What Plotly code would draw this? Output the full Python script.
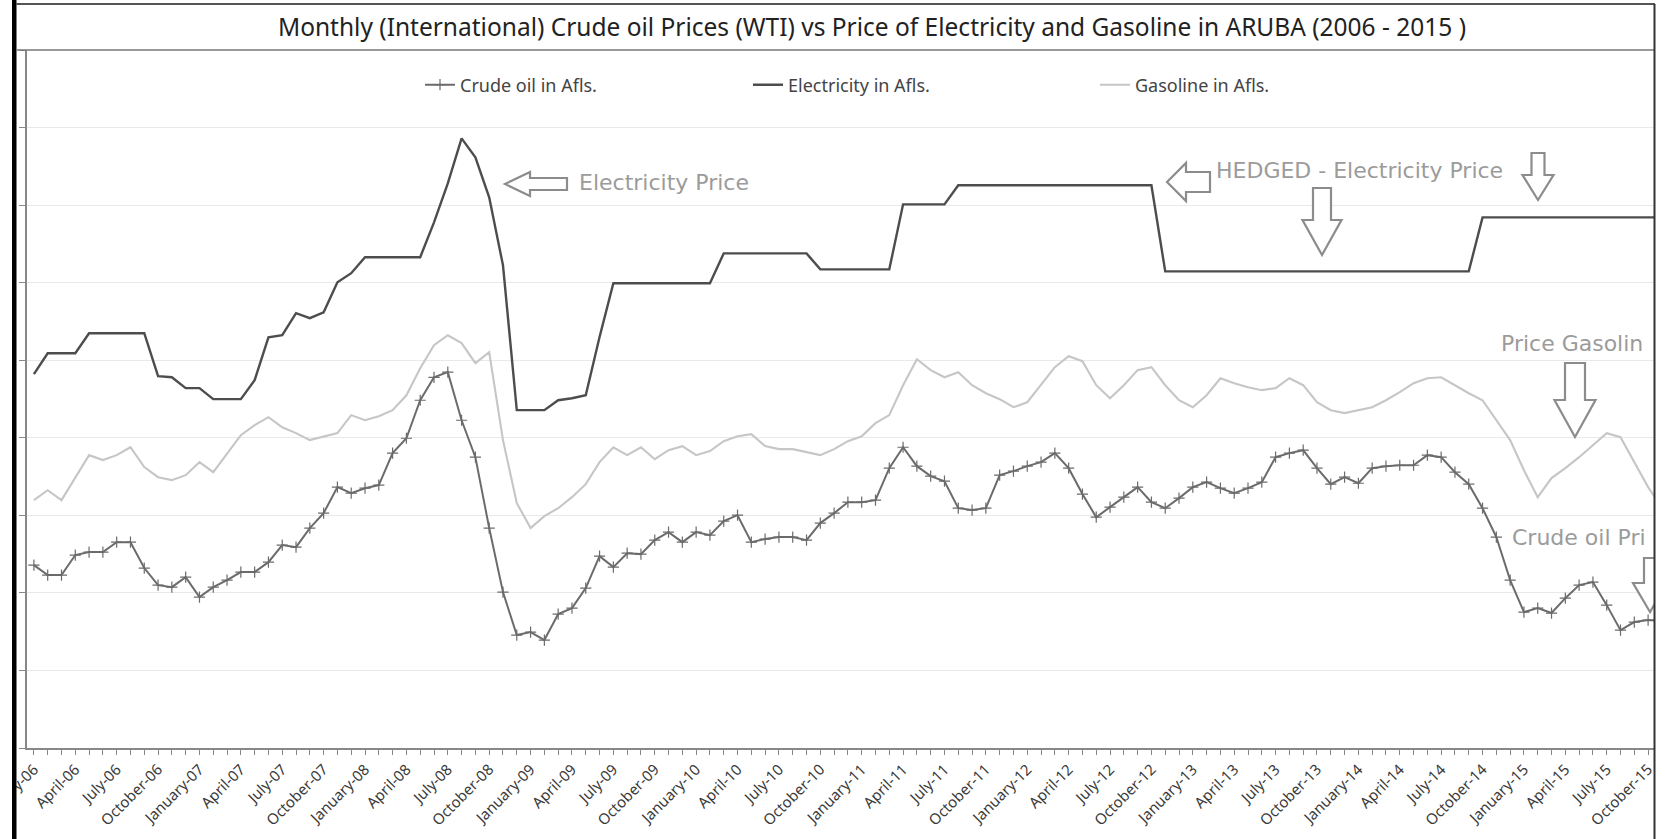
import plotly.graph_objects as go

# ---------------- data ----------------
month_names = ["January", "February", "March", "April", "May", "June", "July",
               "August", "September", "October", "November", "December"]
years = list(range(2006, 2016))
# Jan-06 .. Nov-15 (the last month runs past the visible right edge of the chart)
categories = [f"{m}-{str(y)[2:]}" for y in years for m in month_names][:119]
n_visible = 118  # Jan-06 .. Oct-15 shown on the axis

crude_oil = [
    117.9, 111.5, 111.5, 124.4, 126.3, 126.3, 132.7, 132.7, 116.0, 105.0, 103.7, 110.2,
    97.3, 103.7, 108.2, 113.4, 113.4, 119.8, 130.8, 129.5, 141.8, 151.4, 168.2, 164.3,
    167.5, 169.5, 190.1, 199.7, 224.2, 239.0, 242.3, 211.3, 187.5, 141.8, 100.5, 72.8,
    74.7, 69.6, 86.3, 90.2, 103.1, 123.7, 116.6, 125.6, 125.0, 134.0, 139.2, 132.7,
    139.2, 137.2, 146.3, 150.1, 132.7, 134.7, 136.0, 136.0, 134.0, 145.0, 151.4, 158.5,
    158.5, 159.8, 180.4, 193.9, 181.7, 175.3, 172.0, 154.6, 153.4, 154.6, 175.9, 178.5,
    181.7, 184.3, 190.1, 180.4, 163.7, 148.8, 155.3, 161.7, 168.2, 158.5, 154.6, 161.1,
    168.2, 171.4, 167.5, 164.3, 167.5, 171.4, 187.5, 190.1, 192.0, 180.4, 170.1, 174.6,
    170.7, 180.4, 181.7, 182.3, 182.3, 188.8, 187.5, 177.8, 170.1, 154.6, 136.0, 108.2,
    87.6, 90.2, 87.0, 96.6, 105.0, 107.0, 92.1, 76.0, 81.2, 82.5, 82.0,
]

electricity = [
    241.0, 254.5, 254.5, 254.5, 267.4, 267.4, 267.4, 267.4, 267.4, 239.7, 239.0, 232.0,
    232.0, 224.9, 224.9, 224.9, 237.1, 264.8, 266.1, 280.3, 277.1, 280.9, 300.3, 306.1,
    316.4, 316.4, 316.4, 316.4, 316.4, 338.9, 364.0, 393.0, 380.8, 355.0, 311.2, 217.8,
    217.8, 217.8, 224.2, 225.5, 227.4, 265.0, 299.6, 299.6, 299.6, 299.6, 299.6, 299.6,
    299.6, 299.6, 318.9, 318.9, 318.9, 318.9, 318.9, 318.9, 318.9, 308.6, 308.6, 308.6,
    308.6, 308.6, 308.6, 350.5, 350.5, 350.5, 350.5, 362.8, 362.8, 362.8, 362.8, 362.8,
    362.8, 362.8, 362.8, 362.8, 362.8, 362.8, 362.8, 362.8, 362.8, 362.8, 307.3, 307.3,
    307.3, 307.3, 307.3, 307.3, 307.3, 307.3, 307.3, 307.3, 307.3, 307.3, 307.3, 307.3,
    307.3, 307.3, 307.3, 307.3, 307.3, 307.3, 307.3, 307.3, 307.3, 342.1, 342.1, 342.1,
    342.1, 342.1, 342.1, 342.1, 342.1, 342.1, 342.1, 342.1, 342.1, 342.1, 342.1,
]

gasoline = [
    159.8, 166.2, 159.8, 174.0, 188.8, 185.6, 188.8, 193.9, 181.1, 174.6, 172.7, 175.9,
    184.3, 177.8, 190.1, 201.7, 208.1, 213.3, 206.8, 203.0, 198.5, 201.0, 203.0, 214.6,
    211.3, 213.9, 217.8, 227.4, 244.8, 259.7, 266.1, 261.0, 248.1, 255.2, 198.5, 157.9,
    141.8, 149.5, 154.6, 161.7, 170.1, 184.3, 193.9, 188.8, 193.9, 186.2, 192.0, 194.6,
    188.8, 191.4, 197.8, 201.0, 202.3, 194.6, 192.7, 192.7, 190.7, 188.8, 192.7, 197.8,
    201.0, 209.4, 214.6, 233.9, 250.6, 243.6, 239.0, 242.3, 233.9, 228.7, 224.9, 219.7,
    222.9, 233.9, 245.5, 252.6, 249.4, 233.9, 225.5, 233.9, 243.6, 245.5, 233.9, 224.2,
    219.7, 227.4, 238.4, 235.2, 232.6, 230.7, 232.0, 238.4, 233.9, 222.9, 217.8, 215.9,
    217.8, 219.7, 224.2, 229.4, 235.2, 238.4, 239.0, 233.9, 228.7, 224.2, 211.3, 198.5,
    179.1, 161.7, 174.0, 180.4, 187.5, 195.2, 203.0, 200.4, 184.3, 168.2, 155.0,
]

tick_labels = [c if i % 3 == 0 else "" for i, c in enumerate(categories)]

title_text = ("Monthly (International) Crude oil Prices (WTI) vs Price of Electricity "
              "and Gasoline in ARUBA (2006 - 2015 )")

# ---------------- layout helpers (pixel -> paper) ----------------
W, H = 1667, 839
PL, PR, PT, PB = 27, 1655, 50, 748


def px(x):
    return (x - PL) / (PR - PL)


def py(y):
    return (PB - y) / (PB - PT)


def path(points):
    return "M " + " L ".join(f"{px(x):.5f},{py(y):.5f}" for x, y in points) + " Z"


def left_arrow(tip_x, cy, head_len, head_h, shaft_h, total):
    hx = tip_x + head_len
    ex = tip_x + total
    return path([(tip_x, cy), (hx, cy - head_h / 2), (hx, cy - shaft_h / 2),
                 (ex, cy - shaft_h / 2), (ex, cy + shaft_h / 2), (hx, cy + shaft_h / 2),
                 (hx, cy + head_h / 2)])


def down_arrow(cx, tip_y, head_len, head_w, shaft_w, total):
    hy = tip_y - head_len
    sy = tip_y - total
    return path([(cx, tip_y), (cx - head_w / 2, hy), (cx - shaft_w / 2, hy),
                 (cx - shaft_w / 2, sy), (cx + shaft_w / 2, sy), (cx + shaft_w / 2, hy),
                 (cx + head_w / 2, hy)])


FONT = "Noto Sans"

fig = go.Figure()
fig.add_trace(go.Scatter(
    x=categories, y=crude_oil, name="Crude oil in Afls.", mode="lines+markers",
    line=dict(color="#6b6b6b", width=2),
    marker=dict(symbol="cross-thin-open", size=8, line=dict(color="#6b6b6b", width=1.2)),
    cliponaxis=True, legend="legend", showlegend=True))
fig.add_trace(go.Scatter(
    x=categories, y=electricity, name="Electricity in Afls.", mode="lines",
    line=dict(color="#4d4d4d", width=2.4), legend="legend2", showlegend=True))
fig.add_trace(go.Scatter(
    x=categories, y=gasoline, name="Gasoline in Afls.", mode="lines",
    line=dict(color="#c6c6c6", width=2.1), legend="legend3", showlegend=True))

legend_common = dict(orientation="h", yanchor="middle", y=py(85), xanchor="left",
                     bgcolor="rgba(0,0,0,0)", font=dict(family=FONT, size=18, color="#444"),
                     itemwidth=30)

arrow_style = dict(type="path", xref="paper", yref="paper", fillcolor="white",
                   line=dict(color="#8c8c8c", width=2.2), layer="above")
shapes = []
for p in [
    left_arrow(505, 184, 25, 24, 12, 62),
    left_arrow(1167, 182, 19, 38, 20, 43),
    down_arrow(1322, 255, 35, 39, 18, 67),
    down_arrow(1538, 200, 25, 31, 13, 47),
    down_arrow(1575, 437, 37, 41, 20, 74),
    down_arrow(1650, 612, 29, 34, 12, 54),
]:
    shapes.append(dict(arrow_style, path=p))

shapes += [
    # white area left of frame, black frame bar
    dict(type="rect", xref="paper", yref="paper", x0=px(0), x1=px(12), y0=py(H), y1=py(0),
         fillcolor="white", line=dict(width=0), layer="above"),
    dict(type="rect", xref="paper", yref="paper", x0=px(12), x1=px(16.5), y0=py(H), y1=py(0),
         fillcolor="black", line=dict(width=0), layer="above"),
    # white area right of frame (the source chart is cropped here)
    dict(type="rect", xref="paper", yref="paper", x0=px(1655), x1=px(W), y0=py(H), y1=py(0),
         fillcolor="white", line=dict(width=0), layer="above"),
    # title box lines
    dict(type="line", xref="paper", yref="paper", x0=px(16), x1=px(1655), y0=py(4), y1=py(4),
         line=dict(color="#555", width=2), layer="above"),
    dict(type="line", xref="paper", yref="paper", x0=px(16), x1=px(1655), y0=py(50), y1=py(50),
         line=dict(color="#777", width=1.5), layer="above"),
    # right frame
    dict(type="line", xref="paper", yref="paper", x0=px(1654.5), x1=px(1654.5), y0=py(4),
         y1=py(H), line=dict(color="#333", width=2), layer="above"),
]

ann_font = dict(family="DejaVu Sans", size=22, color="#9b9b9b")
annotations = [
    dict(text="Electricity Price", x=px(577), y=py(183)),
    dict(text="HEDGED - Electricity Price", x=px(1214), y=py(170)),
    dict(text="Price Gasolin", x=px(1499), y=py(343)),
    dict(text="Crude oil Pri", x=px(1510), y=py(537)),
]
annotations = [dict(a, xref="paper", yref="paper", xanchor="left", yanchor="middle",
                    showarrow=False, font=ann_font) for a in annotations]

fig.update_layout(
    width=W, height=H,
    margin=dict(l=PL, r=W - PR, t=PT, b=H - PB, pad=0, autoexpand=False),
    paper_bgcolor="white", plot_bgcolor="white",
    showlegend=True,
    title=dict(text=title_text, x=px(872), xref="paper", xanchor="center",
               y=1 - 27 / H, yref="container", yanchor="middle",
               font=dict(family=FONT, size=24.5, color="#222"), automargin=False),
    xaxis=dict(type="category", categoryorder="array", categoryarray=categories,
               range=[-0.5, n_visible - 0.5], automargin=False,
               tickmode="array", tickvals=categories, ticktext=tick_labels,
               tickangle=-45, ticks="outside", ticklen=5, tickcolor="#888", tickwidth=1,
               showline=True, linecolor="#888", linewidth=1.5, showgrid=False,
               tickfont=dict(family=FONT, size=15, color="#3a3a3a")),
    yaxis=dict(range=[0, 450], dtick=50, showticklabels=False, ticks="outside",
               automargin=False,
               ticklen=6, tickcolor="#888", showline=True, linecolor="#888", linewidth=1.5,
               showgrid=True, gridcolor="#e9e9e9", gridwidth=1, zeroline=False),
    legend=dict(legend_common, x=px(420)),
    legend2=dict(legend_common, x=px(748)),
    legend3=dict(legend_common, x=px(1095)),
    shapes=shapes,
    annotations=annotations,
)

fig.write_html("out.html", config={"displayModeBar": False},
               post_script="document.body.style.margin='0px';document.body.style.overflow='hidden';")
